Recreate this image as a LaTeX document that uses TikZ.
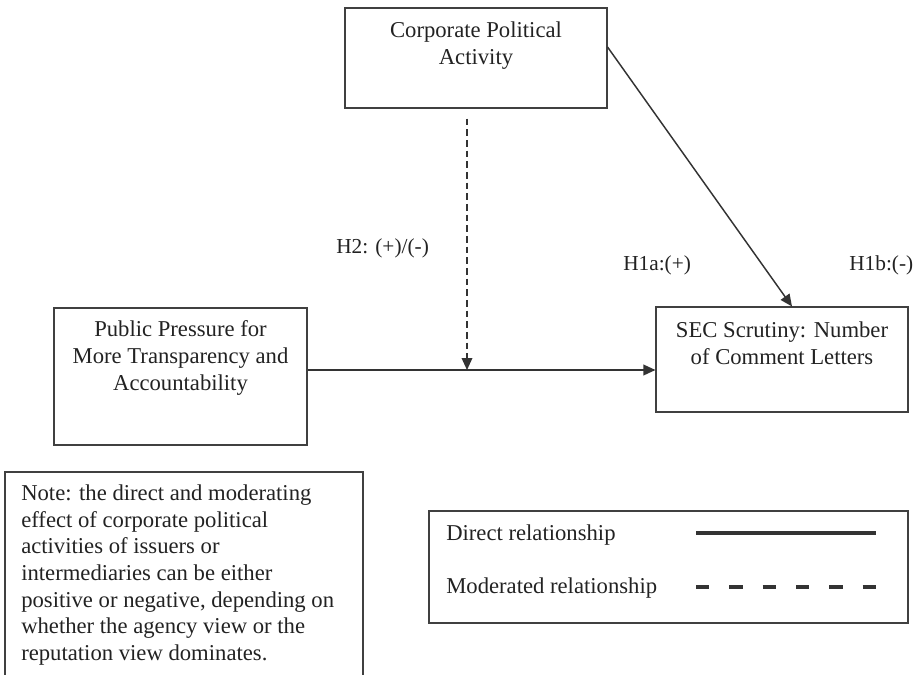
\documentclass[tikz,border=0pt]{standalone}
\usepackage{fontspec}
\setmainfont{Liberation Serif}
\usetikzlibrary{arrows.meta, calc, positioning}
\definecolor{CPAline}{HTML}{333333}
\definecolor{CPAbox}{HTML}{404040}
\definecolor{CPAtext}{HTML}{222222}

\begin{document}
\begin{tikzpicture}[x=0.75pt, y=-0.75pt,
  varbox/.style={draw=CPAbox, line width=0.8pt, rectangle, inner sep=0pt},
  boxtext/.style={text=CPAtext, font=\fontsize{17}{20}\selectfont, align=center, anchor=north, inner sep=0pt},
  hyplabel/.style={text=CPAtext, font=\fontsize{16}{19}\selectfont, anchor=base west, inner sep=0pt},
  direct/.style={draw=CPAline, line width=1.1pt, -{Triangle[length=9pt,width=8pt]}},
  moderated/.style={direct, dash pattern=on 5pt off 3pt}]
  \useasboundingbox (0,0) rectangle (915,675);

  % variables
  \node[varbox, minimum width=196.5pt, minimum height=75pt] (corp) at (476,58) {};
  \node[boxtext] (corptxt) at (476,21.5) {Corporate Political\\Activity};

  \node[varbox, minimum width=189.75pt, minimum height=102.75pt] (pub) at (180.5,376.5) {};
  \node[boxtext] (pubtxt) at (180.5,320.5) {Public Pressure for\\More Transparency and\\Accountability};

  \node[varbox, minimum width=189pt, minimum height=78.75pt] (sec) at (782,359.5) {};
  \node[boxtext] (sectxt) at (782,321.5) {SEC Scrutiny: Number\\of Comment Letters};

  % hypotheses
  \coordinate (jn) at ($(pub.east)+(0,-6.5)$);
  \coordinate (modtop) at ($(corp.south)+(-9,10)$);
  \coordinate (modpt) at (modtop |- jn);
  \draw[direct] (jn) -- (jn -| sec.west);
  \draw[moderated] (modtop) -- (modpt);
  \draw[direct] ($(corp.east)+(0,-11)$) -- ($(sec.north)+(10,0)$);

  \node[hyplabel] (h2) at (336,253) {H2: (+)/(-)};
  \node[hyplabel] (h1a) at (623,270) {H1a:(+)};
  \node[hyplabel] (h1b) at (849,270) {H1b:(-)};

  % note
  \draw[CPAbox, line width=0.8pt] (5,675) |- (363,472) -- (363,675);
  \node[boxtext, anchor=north west, align=left] (note) at (21,484.5)
    {Note: the direct and moderating\\effect of corporate political\\activities of issuers or\\intermediaries can be either\\positive or negative, depending on\\whether the agency view or the\\reputation view dominates.};

  % legend
  \node[varbox, minimum width=359.25pt, minimum height=84pt] (legend) at (668.5,567) {};
  \node[hyplabel, font=\fontsize{17}{20}\selectfont] (legdirect) at (446,540) {Direct relationship};
  \node[hyplabel, font=\fontsize{17}{20}\selectfont] (legmod) at (446,593) {Moderated relationship};
  \draw[CPAline, line width=2.6pt] (696,533) -- (876,533);
  \draw[CPAline, line width=2.6pt, dash pattern=on 10pt off 15pt] (696,587) -- (876,587);
\end{tikzpicture}
\end{document}
